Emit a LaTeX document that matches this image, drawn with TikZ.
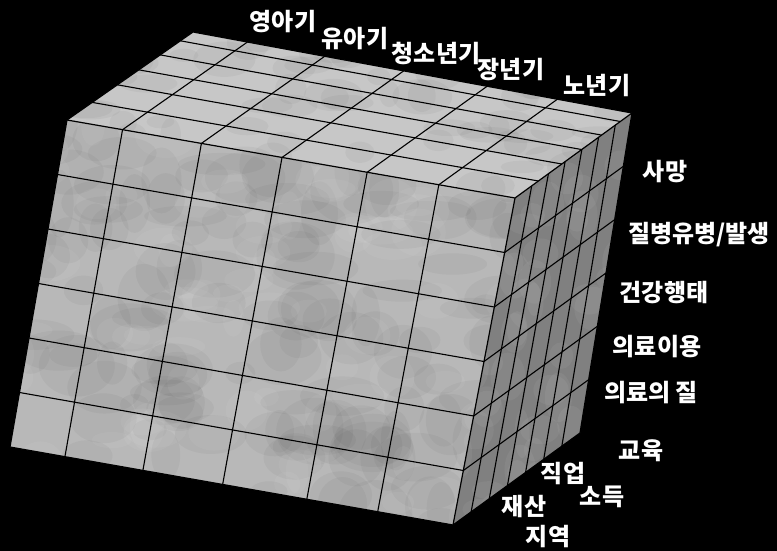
\documentclass[tikz,border=0pt]{standalone}
\usepackage{fontspec}
\usepackage{tikz}
\usetikzlibrary{calc}
\newfontfamily\hangul{Noto Sans CJK KR}

\definecolor{topgray}{gray}{0.78}
\definecolor{frontgray}{gray}{0.72}
\definecolor{sidegray}{gray}{0.50}

\tikzset{
  gridline/.style={black, line width=1.1pt},
  edgeline/.style={black, line width=1.2pt, line join=round},
  axislabel/.style={text=white, inner sep=0pt, font=\hangul\bfseries\fontsize{24}{24}\selectfont},
}

\begin{document}
\begin{tikzpicture}[x=1pt, y=-1pt]
% Page = 777 x 551 px, black ground
\fill[black] (0,0) rectangle (777,551);
\useasboundingbox (0,0) rectangle (777,551);
\pgfmathsetseed{11}
% Cube corners (F = front, B = back)
\coordinate (FTL) at (67,120);
\coordinate (FTR) at (515,198);
\coordinate (FBR) at (453,525);
\coordinate (FBL) at (10,447);
\coordinate (BTL) at (193,32);
\coordinate (BTR) at (632,113);
\coordinate (BBR) at (580,433);
% Front face with mottled fill
\begin{scope}
  \clip (FTL) -- (FTR) -- (FBR) -- (FBL) -- cycle;
  \fill[frontgray] (0,0) rectangle (777,551);
  \foreach \k in {1,...,160}{
    \pgfmathsetmacro{\cx}{10+rnd*505}
    \pgfmathsetmacro{\cy}{120+rnd*405}
    \pgfmathsetmacro{\rx}{14+rnd*30}
    \pgfmathsetmacro{\ry}{10+rnd*24}
    \fill[black, opacity=0.035] (\cx,\cy) ellipse ({\rx} and {\ry});
  }
  \foreach \k in {1,...,90}{
    \pgfmathsetmacro{\cx}{10+rnd*505}
    \pgfmathsetmacro{\cy}{120+rnd*405}
    \pgfmathsetmacro{\rx}{10+rnd*24}
    \pgfmathsetmacro{\ry}{8+rnd*18}
    \fill[white, opacity=0.05] (\cx,\cy) ellipse ({\rx} and {\ry});
  }
\end{scope}
% Top face
\begin{scope}
  \clip (FTL) -- (FTR) -- (BTR) -- (BTL) -- cycle;
  \fill[topgray] (0,0) rectangle (777,551);
  \foreach \k in {1,...,80}{
    \pgfmathsetmacro{\cx}{67+rnd*565}
    \pgfmathsetmacro{\cy}{32+rnd*166}
    \pgfmathsetmacro{\rx}{10+rnd*22}
    \pgfmathsetmacro{\ry}{6+rnd*12}
    \fill[black, opacity=0.035] (\cx,\cy) ellipse ({\rx} and {\ry});
  }
\end{scope}
% Right face (darker)
\begin{scope}
  \clip (FTR) -- (BTR) -- (BBR) -- (FBR) -- cycle;
  \fill[sidegray] (0,0) rectangle (777,551);
  \foreach \k in {1,...,70}{
    \pgfmathsetmacro{\cx}{453+rnd*180}
    \pgfmathsetmacro{\cy}{113+rnd*412}
    \pgfmathsetmacro{\rx}{6+rnd*14}
    \pgfmathsetmacro{\ry}{8+rnd*18}
    \fill[white, opacity=0.05] (\cx,\cy) ellipse ({\rx} and {\ry});
  }
\end{scope}
% Front face grid: 6 age columns, 6 outcome rows
\foreach \u in {0.124,0.30,0.48,0.67,0.83}
  \draw[gridline] ($(FTL)!\u!(FTR)$) -- ($(FBL)!\u!(FBR)$);
\foreach \v in {1,...,5}
  \draw[gridline] ($(FTL)!\v/6!(FBL)$) -- ($(FTR)!\v/6!(FBR)$);
% Top face grid
\foreach \u in {0.124,0.30,0.48,0.67,0.83}
  \draw[gridline] ($(FTL)!\u!(FTR)$) -- ($(BTL)!\u!(BTR)$);
\foreach \v in {0.2,0.4,0.57,0.74,0.9}
  \draw[gridline] ($(FTL)!\v!(BTL)$) -- ($(FTR)!\v!(BTR)$);
% Right face grid
\foreach \v in {1,...,5}
  \draw[gridline] ($(FTR)!\v/6!(FBR)$) -- ($(BTR)!\v/6!(BBR)$);
\foreach \u in {1,...,6}
  \draw[gridline] ($(FTR)!\u/7!(BTR)$) -- ($(FBR)!\u/7!(BBR)$);
% Cube edges
\draw[edgeline] (FBL) -- (FTL) -- (BTL) -- (BTR) -- (BBR) -- (FBR) -- cycle;
\draw[edgeline] (FTL) -- (FTR) -- (FBR);
\draw[edgeline] (FTR) -- (BTR);
% Life stages along the top
\node[axislabel] (infant) at (283,22) {영아기};
\node[axislabel] (toddler) at (355,39) {유아기};
\node[axislabel] (youth) at (436,54) {청소년기};
\node[axislabel] (adult) at (511,70) {장년기};
\node[axislabel] (elder) at (597,86) {노년기};
% Health outcomes down the right
\node[axislabel] (death) at (665,172) {사망};
\node[axislabel] (disease) at (699,235) {질병유병/발생};
\node[axislabel] (behav) at (664,293) {건강행태};
\node[axislabel] (use) at (657,347) {의료이용};
\node[axislabel] (quality) at (651,393) {의료의 질};
% Social position along the bottom
\node[axislabel] (edu) at (641,451) {교육};
\node[axislabel] (job) at (563,474) {직업};
\node[axislabel] (income) at (602,497) {소득};
\node[axislabel] (wealth) at (524,506) {재산};
\node[axislabel] (region) at (548,537) {지역};
\end{tikzpicture}
\end{document}
